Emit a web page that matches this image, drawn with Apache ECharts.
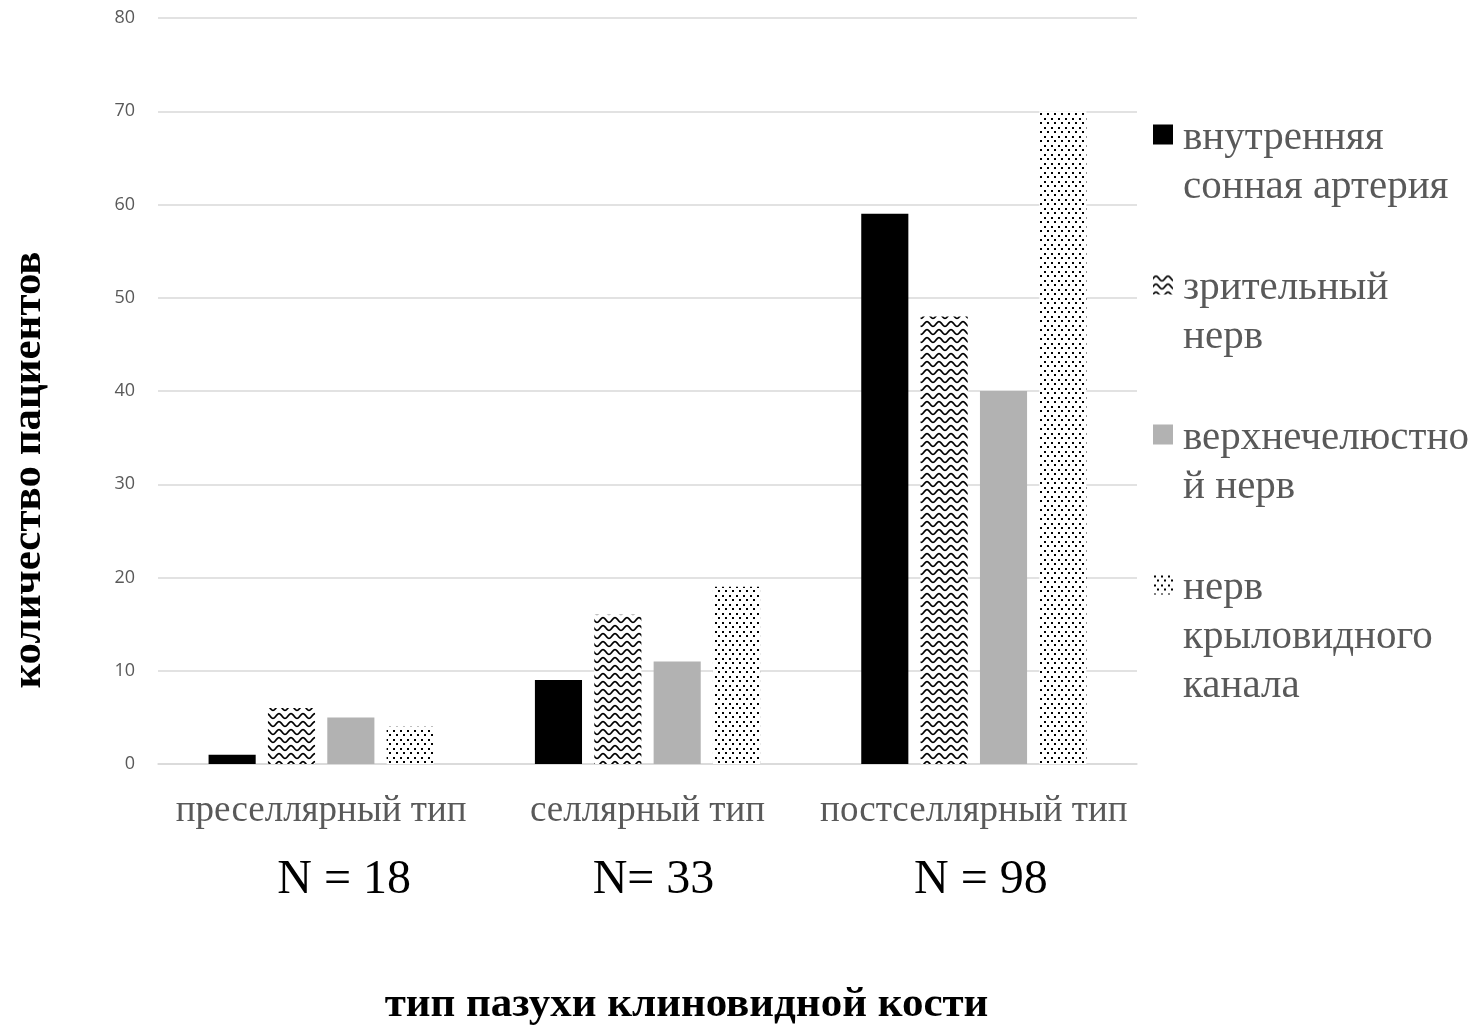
<!DOCTYPE html>
<html>
<head>
<meta charset="utf-8">
<script src="https://cdn.jsdelivr.net/npm/echarts@6/dist/echarts.min.js"></script>
<style>
html,body{margin:0;padding:0;background:#fff;}
#chart{width:1483px;height:1027px;}
</style>
</head>
<body>
<div id="chart"></div>
<script>
// ---- data ----
const categories = ['преселлярный тип', 'селлярный тип', 'постселлярный тип'];
const nLabels = ['N = 18', 'N= 33', 'N = 98'];
const seriesNames = ['внутренняя\nсонная артерия', 'зрительный\nнерв', 'верхнечелюстно\nй нерв', 'нерв\nкрыловидного\nканала'];
const carotid = [1, 9, 59];
const optic = [6, 16, 48];
const maxillary = [5, 11, 40];
const pterygoid = [4, 19, 70];
const yTicks = [0, 10, 20, 30, 40, 50, 60, 70, 80];

// ---- patterns ----
function wavePattern() {
  const c = document.createElement('canvas');
  c.width = 12; c.height = 8;
  const ctx = c.getContext('2d');
  ctx.fillStyle = '#fff'; ctx.fillRect(0, 0, 12, 8);
  ctx.strokeStyle = '#000'; ctx.lineWidth = 1.7;
  ctx.beginPath();
  for (let x = -1; x <= 13; x += 0.5) {
    const y = 4 - 2.3 * Math.sin(2 * Math.PI * x / 12);
    if (x === -1) ctx.moveTo(x, y); else ctx.lineTo(x, y);
  }
  ctx.stroke();
  return c;
}
function dotPattern() {
  const c = document.createElement('canvas');
  c.width = 7; c.height = 9;
  const ctx = c.getContext('2d');
  ctx.fillStyle = '#fff'; ctx.fillRect(0, 0, 7, 9);
  ctx.fillStyle = '#000';
  ctx.fillRect(1, 1, 2, 2);
  ctx.fillRect(4, 5, 2, 2);
  return c;
}
const fills = [
  '#000000',
  { image: wavePattern(), repeat: 'repeat' },
  '#b2b2b2',
  { image: dotPattern(), repeat: 'repeat' }
];
const values = [carotid, optic, maxillary, pterygoid];

const chart = echarts.init(document.getElementById('chart'), null, { renderer: 'canvas' });
const serif = '"Liberation Serif", "Times New Roman", serif';
const nStyle = { fontFamily: serif, fontSize: 48, color: '#000', lineHeight: 98 };

const option = {
  backgroundColor: '#fff',
  animation: false,
  grid: { left: 158, right: 346, top: 18, bottom: 263, containLabel: false, outerBoundsMode: 'none' },
  legend: {
    orient: 'vertical',
    left: 1153,
    top: 114,
    padding: 0,
    itemGap: 3,
    itemWidth: 25,
    itemHeight: 126,
    icon: 'path://M0,0L20,0L20,20L0,20Z M25,126L25,126.001',
    itemStyle: { borderWidth: 0 },
    data: seriesNames,
    formatter: function (name) {
      const lines = name.split('\n');
      while (lines.length < 3) lines.push('');
      return lines.join('\n');
    },
    textStyle: { color: '#595959', fontFamily: serif, fontSize: 41, lineHeight: 49 }
  },
  xAxis: {
    type: 'category',
    data: categories,
    axisLine: { show: true, lineStyle: { color: '#d9d9d9', width: 1.5 } },
    axisTick: { show: false },
    axisLabel: {
      margin: 27,
      interval: 0,
      formatter: function (v, i) {
        return '{c|' + v + '}\n{n' + i + '|' + nLabels[i] + '}';
      },
      rich: {
        c: { fontFamily: serif, fontSize: 37, color: '#595959', lineHeight: 40 },
        n0: Object.assign({ padding: [0, 0, 0, 46] }, nStyle),
        n1: Object.assign({ padding: [0, 0, 0, 12] }, nStyle),
        n2: Object.assign({ padding: [0, 0, 0, 14] }, nStyle)
      }
    },
    name: 'тип пазухи клиновидной кости',
    nameLocation: 'middle',
    nameGap: 219,
    nameTextStyle: { fontFamily: serif, fontSize: 43, fontWeight: 'bold', color: '#000', padding: [0, 0, 0, 78] }
  },
  yAxis: {
    type: 'value',
    min: yTicks[0],
    max: yTicks[yTicks.length - 1],
    interval: yTicks[1] - yTicks[0],
    axisLine: { show: false },
    axisTick: { show: false },
    splitLine: { lineStyle: { color: '#d9d9d9', width: 1.5 } },
    axisLabel: { margin: 23, fontFamily: '"Open Sans", sans-serif', fontSize: 18, color: '#595959' },
    name: 'количество пациентов',
    nameLocation: 'middle',
    nameRotate: 90,
    nameGap: 108,
    nameTextStyle: { fontFamily: serif, fontSize: 43, fontWeight: 'bold', color: '#000', padding: [0, 158, 0, 0] }
  },
  series: seriesNames.map(function (nm, i) {
    return {
      name: nm,
      type: 'bar',
      data: values[i],
      barGap: '26%',
      barCategoryGap: '31%',
      itemStyle: { color: fills[i], borderWidth: 0 }
    };
  })
};
chart.setOption(option);
</script>
</body>
</html>
